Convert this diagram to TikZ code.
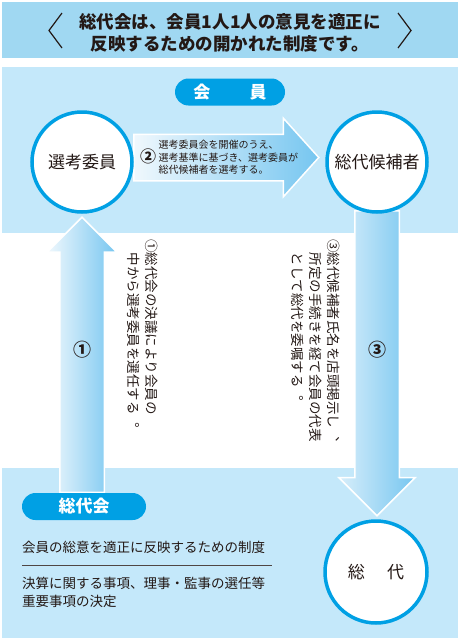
\documentclass[tikz,border=0pt]{standalone}
\usepackage{fontspec}
\setmainfont{Noto Sans CJK JP}
\newfontfamily\tatefont[Vertical=RotatedGlyphs]{Noto Sans CJK JP}
\usetikzlibrary{shapes.arrows}
\definecolor{bandblue}{RGB}{160,216,242}
\definecolor{paleblue}{RGB}{196,232,250}
\definecolor{pillblue}{RGB}{0,160,228}
\definecolor{arrowblue}{RGB}{118,198,240}
\definecolor{arrowpale}{RGB}{240,248,253}
\definecolor{ink}{RGB}{35,24,21}

\begin{document}
\begin{tikzpicture}[x=1pt,y=-1pt,every node/.style={text=ink,inner sep=0pt}]
  \tikzstyle{ring}=[circle,draw=pillblue,line width=3.5pt,fill=white,minimum size=100pt,font=\fontsize{17}{20}\selectfont]
  \tikzstyle{pill}=[rectangle,rounded corners=13.5pt,fill=pillblue,text=white,minimum height=27pt,font=\bfseries\fontsize{17}{20}\selectfont]
  \tikzstyle{trans}=[single arrow,draw=white,line width=1.5pt,single arrow head indent=0pt,text depth=0pt,anchor=tail,left color=arrowpale,right color=arrowblue]
  \tikzstyle{tate}=[rotate=-90,anchor=north west,align=left,font=\tatefont\fontsize{13.5}{18}\selectfont]
  \tikzstyle{num}=[font=\bfseries\fontsize{18}{18}\selectfont]

\useasboundingbox (0,0) rectangle (460,640);

% panels
\fill[bandblue] (2,2) rectangle (458,58);
\fill[paleblue] (2,67) rectangle (458,233);
\fill[paleblue] (2,468) rectangle (458,638);

\node[align=center,font=\bfseries\fontsize{17.5}{22}\selectfont] (title) at (230,33)
  {総代会は、会員1人1人の意見を適正に\\反映するための開かれた制度です。};
\draw[ink,line width=1.2pt] (62,13) -- (49,30.5) -- (62,48);
\draw[ink,line width=1.2pt] (398,13) -- (411,30.5) -- (398,48);

% arrows
\node[trans,text height=45pt,minimum height=185pt,single arrow head extend=16pt,single arrow tip angle=96] (arr2) at (133,157.5) {};
\node[trans,rotate=90,text height=43pt,minimum height=275pt,single arrow head extend=12.5pt,single arrow tip angle=90] (arr1) at (82,493) {};
\node[trans,rotate=-90,left color=arrowpale!80!arrowblue,text height=43pt,minimum height=305pt,single arrow head extend=16pt,single arrow tip angle=90] (arr3) at (377,210) {};

\node[ring] (senko) at (82,162) {選考委員};
\node[ring] (kouho) at (377,162) {総代候補者};
\node[ring,minimum size=102pt] (sodai) at (376,572) {総\hspace{1.3em}代};

\node[pill,minimum width=110pt] (kaiin) at (230,92) {会\hspace{2.3em}員};
\node[pill,minimum width=124pt] (sodaikai) at (84,506.5) {総代会};

\node[num] (n1) at (82,350) {①};
\node[num] (n3) at (377,350) {③};
\node[font=\bfseries\fontsize{16}{16}\selectfont] (n2) at (148,156.5) {②};
\node[anchor=west,align=left,font=\fontsize{10}{12.5}\selectfont] (step2) at (158.5,157.5)
  {選考委員会を開催のうえ、\\選考基準に基づき、選考委員が\\総代候補者を選考する。};

\node[tate] (note1) at (158,239) {①総代会の決議により会員の\\\hspace*{1em}中から選考委員を選任する。};
\node[tate] (note3) at (340,239) {③総代候補者氏名を店頭掲示し、\\\hspace*{1em}所定の手続きを経て会員の代表\\\hspace*{1em}として総代を委嘱する。};

\node[anchor=west,font=\fontsize{13.5}{18}\selectfont] (role) at (22,547) {会員の総意を適正に反映するための制度};
\draw[ink!80,line width=0.9pt] (22,565) -- (272,565);
\node[anchor=north west,align=left,font=\fontsize{13.5}{18}\selectfont] (duty) at (22,577)
  {決算に関する事項、理事・監事の選任等\\重要事項の決定};

\end{tikzpicture}
\end{document}
